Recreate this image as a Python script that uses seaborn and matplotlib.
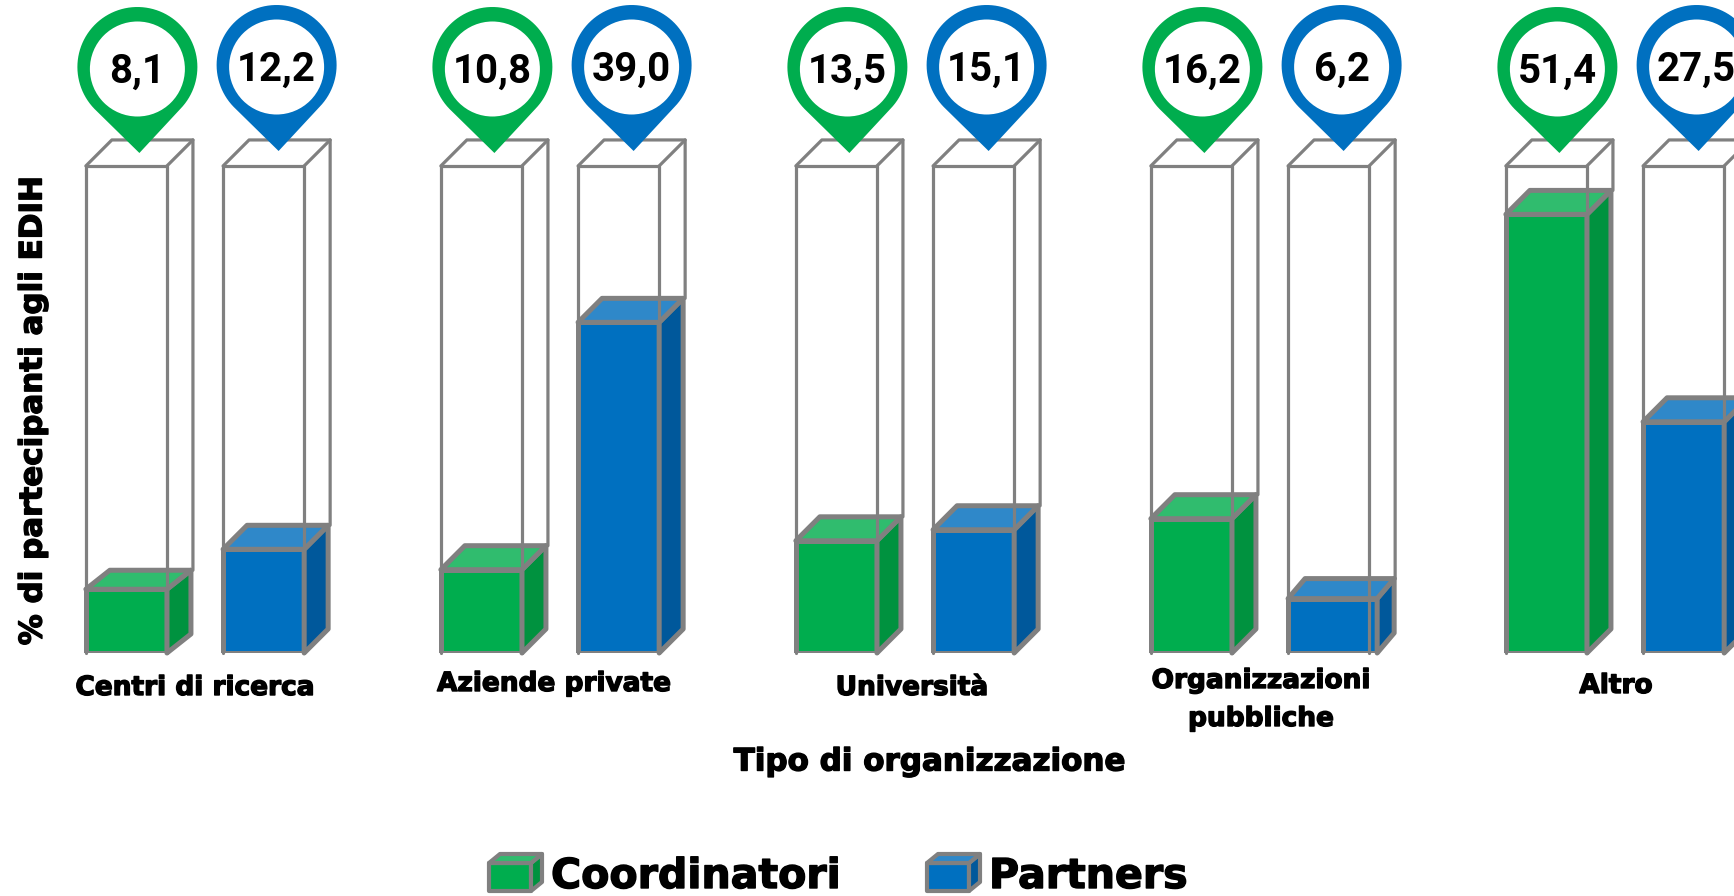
import numpy as np
import pandas as pd
import seaborn as sns
import matplotlib
matplotlib.use("Agg")
import matplotlib.pyplot as plt
import matplotlib.patheffects as pe
from matplotlib.patches import Polygon, PathPatch
from matplotlib.path import Path
from matplotlib.transforms import Affine2D

categories = ["Centri di ricerca", "Aziende private", "Università", "Organizzazioni\npubbliche", "Altro"]
roles = ["Coordinatori", "Partners"]
coord_labels = ["8,1", "10,8", "13,5", "16,2", "51,4"]
partner_labels = ["12,2", "39,0", "15,1", "6,2", "27,5"]
# bar heights, they differ a little from the printed numbers
coord_heights = [7.5, 9.8, 13.2, 15.8, 51.6]
partner_heights = [12.2, 38.9, 14.5, 6.4, 27.2]
frame_height = 57.3

W, H = 1734, 896
BASE_Y = 653
PX_PER_UNIT = 8.5
GROUP_STEP = 355
FIRST_GROUP_X = 195
GREY = "#808080"
HEAVY = "DejaVu Sans"
colors = {"Coordinatori": ("#00AD4E", "#30BC6E", "#00923F"),
          "Partners": ("#0070C0", "#2F88C9", "#00589B")}

sns.set_theme(style="white")
plt.rcParams["font.family"] = ["Roboto", "DejaVu Sans"]

df = pd.DataFrame({
    "tipo": categories * 2,
    "ruolo": [roles[0]] * 5 + [roles[1]] * 5,
    "altezza": coord_heights + partner_heights,
})

fig = plt.figure(figsize=(W / 100, H / 100), dpi=100)
ax = fig.add_axes([0, (H - BASE_Y) / H, 1, BASE_Y / H])
sns.barplot(data=df, x="tipo", y="altezza", hue="ruolo", order=categories, hue_order=roles,
            palette={r: colors[r][0] for r in roles}, saturation=1, width=0.773, gap=0.409,
            edgecolor=GREY, linewidth=3.6, legend=False, ax=ax)
ax.set_xlim(-FIRST_GROUP_X / GROUP_STEP, (W - FIRST_GROUP_X) / GROUP_STEP)
ax.set_ylim(0, BASE_Y / PX_PER_UNIT)
ax.set_xticks([])
ax.set_yticks([])
ax.set_xlabel("")
ax.set_ylabel("")
sns.despine(ax=ax, left=True, bottom=True)

# pixel coordinates, y going down like in the reference
px = Affine2D().scale(1, -1).translate(0, H)
# the reference font is heavier than any installed one, so fatten it a bit
fat = [pe.withStroke(linewidth=1.0, foreground="black")]


def to_px(x, y):
    p = ax.transData.transform((x, y))
    return p[0], H - p[1]


def poly(points, face, lw=3.6, z=3, edge=GREY):
    ax.add_patch(Polygon(points, closed=True, facecolor=face, edgecolor=edge, linewidth=lw,
                         joinstyle="round", transform=px, zorder=z, clip_on=False))


def box_faces(x0, x1, ytop, ybase, dx, dy, top, side, lw=3.6, z=3):
    poly([(x1, ytop), (x1 + dx, ytop - dy), (x1 + dx, ybase - dy), (x1, ybase)], side, lw, z)
    poly([(x0, ytop), (x0 + dx, ytop - dy), (x1 + dx, ytop - dy), (x1, ytop)], top, lw, z)


def pin(cx, cy, tip_y, color):
    r = 60
    tip = np.array([cx + 2, tip_y])
    d = tip_y - cy
    a = np.arccos(r / d)
    # arc of the head from one tangent point round the top to the other
    angles = np.linspace(np.pi / 2 + a, np.pi / 2 - a + 2 * np.pi, 80)
    head = np.column_stack([cx + r * np.cos(angles), cy + r * np.sin(angles)])
    verts = np.vstack([head, tip, head[0]])
    codes = [Path.MOVETO] + [Path.LINETO] * (len(verts) - 1)
    ax.add_patch(PathPatch(Path(verts, codes), facecolor=color, edgecolor="none",
                           transform=px, zorder=6, clip_on=False))
    ax.add_patch(plt.Circle((cx, cy + 2), 47.5, facecolor="white", edgecolor="none",
                            transform=px, zorder=7, clip_on=False))


n = len(categories)
labels = coord_labels + partner_labels
for i, bar in enumerate(ax.patches[:2 * n]):
    role = roles[i // n]
    front, top, side = colors[role]
    bar.set_zorder(2)
    bar.set_joinstyle("round")
    x0, ytop = to_px(bar.get_x(), bar.get_height())
    x1, ybase = to_px(bar.get_x() + bar.get_width(), 0)
    # empty frame, same front width for all
    fx1 = x1
    dx, dy = 24, 19 if i == 0 else 24
    if i == n + 3:
        # this one bar sticks out of its frame in the reference
        bar.set_width(bar.get_width() * 89 / 81)
        x1 = to_px(bar.get_x() + bar.get_width(), 0)[0]
        dx, dy = 17, 20
    box_faces(x0, x1, ytop, ybase, dx, dy, top, side)
    ftop = to_px(0, frame_height)[1]
    fr_dx, fr_dy = 26, 26
    ax.plot([x0, x0, fx1, fx1], [ybase, ftop, ftop, ybase], color=GREY, lw=2.3, transform=px,
            zorder=4, solid_joinstyle="round", clip_on=False)
    # back edge of the frame stops where the bar's own top starts
    ax.plot([x0, x0 + fr_dx, fx1 + fr_dx, fx1 + fr_dx], [ftop, ftop - fr_dy, ftop - fr_dy, ytop - dy],
            color=GREY, lw=2.3, transform=px, zorder=4, solid_joinstyle="round", clip_on=False)
    ax.plot([fx1, fx1 + fr_dx], [ftop, ftop - fr_dy], color=GREY, lw=2.3, transform=px, zorder=4, clip_on=False)
    # pin with the value on top
    cx = (x0 + fx1) / 2 + (11 if i < n else 13)
    cy = 67 if i < n else 65
    pin(cx, cy, cy + 86, front)
    ax.text(cx, cy + 5, labels[i], transform=px, ha="center", va="center", fontsize=29,
            fontweight="bold", color="black", zorder=8, clip_on=True)

tick_x = [195, 554, 912, 1261, 1616]
tick_y = [688, 684, 688, 700, 686]
for name, x, y in zip(categories, tick_x, tick_y):
    ax.text(x, y, name, transform=px, ha="center", va="center", fontsize=19, fontweight="bold",
            family=HEAVY, color="black", linespacing=1.6, clip_on=False, path_effects=fat)

ax.text(33, 410, "% di partecipanti agli EDIH", transform=px, rotation=90, ha="center", va="center",
        fontsize=22.3, fontweight="bold", family=HEAVY, color="black", clip_on=False, path_effects=fat)
ax.text(930, 762, "Tipo di organizzazione", transform=px, ha="center", va="center",
        fontsize=22.3, fontweight="bold", family=HEAVY, color="black", clip_on=False, path_effects=fat)

# legend drawn by hand as small cubes
legend_x = [489, 927]
legend_text_x = [551, 989]
for role, lx, tx in zip(roles, legend_x, legend_text_x):
    front, top, side = colors[role]
    poly([(lx, 863), (lx + 42, 863), (lx + 42, 891), (lx, 891)], front, lw=3.0, z=5)
    box_faces(lx, lx + 42, 863, 891, 11, 9, top, side, lw=3.0, z=5)
    ax.text(tx, 877, role, transform=px, ha="left", va="center", fontsize=29.6, fontweight="bold",
            family=HEAVY, color="black", clip_on=False, path_effects=fat)

fig.savefig("out.png", dpi=100, facecolor="white")
